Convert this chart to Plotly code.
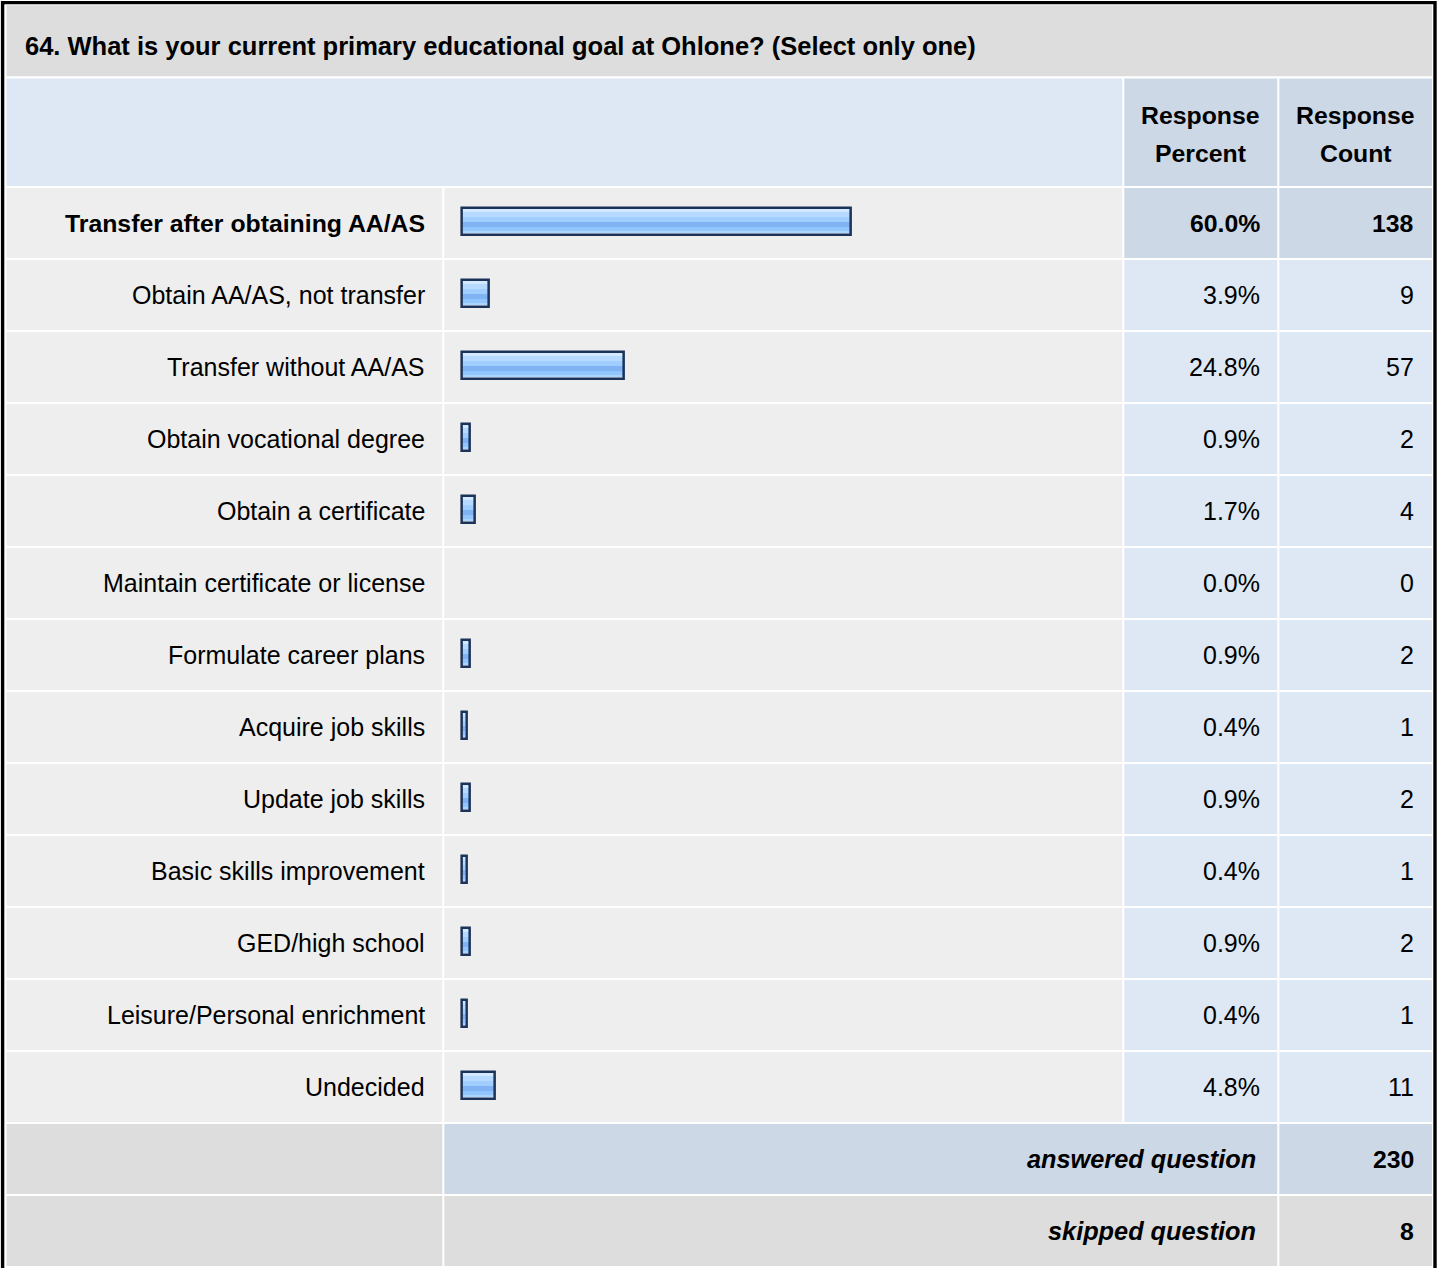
import plotly.graph_objects as go

# ---------------- data ----------------
title_text = "64. What is your current primary educational goal at Ohlone? (Select only one)"
categories = [
    "Transfer after obtaining AA/AS",
    "Obtain AA/AS, not transfer",
    "Transfer without AA/AS",
    "Obtain vocational degree",
    "Obtain a certificate",
    "Maintain certificate or license",
    "Formulate career plans",
    "Acquire job skills",
    "Update job skills",
    "Basic skills improvement",
    "GED/high school",
    "Leisure/Personal enrichment",
    "Undecided",
]
response_percent = [60.0, 3.9, 24.8, 0.9, 1.7, 0.0, 0.9, 0.4, 0.9, 0.4, 0.9, 0.4, 4.8]
response_count = [138, 9, 57, 2, 4, 0, 2, 1, 2, 1, 2, 1, 11]
header_labels = [["Response", "Percent"], ["Response", "Count"]]
summary_labels = ["answered question", "skipped question"]
summary_values = [230, 8]
highlight_index = 0

# ---------------- geometry helpers ----------------
W, H = 1437, 1268
FONT = "Liberation Sans, Arial, sans-serif"
FS = 25
FS_BOLD = 24.8
FS_TITLE = 25.5
FS_ITAL = 25.3


def px(x):
    return x / W


def py(y):
    return 1 - y / H


TITLE_BG = "#DDDDDD"
HEAD_BG = "#DEE8F5"
HEAD_DARK = "#CCD8E6"
ROW_BG = "#EEEEEE"
BORDER = "#1B3359"

shapes = []


def rect(x0, y0, x1, y1, color):
    shapes.append(dict(type="rect", xref="paper", yref="paper",
                       x0=px(x0), x1=px(x1), y0=py(y1), y1=py(y0),
                       fillcolor=color, line=dict(width=0), layer="below"))


# columns
C1 = (6.5, 442.3)
C2 = (444.3, 1122.3)
C3 = (1124.3, 1277.3)
C4 = (1279.3, 1432)

# title row
rect(6.5, 5.3, 1432, 76.3, TITLE_BG)
# header row
rect(C1[0], 78.5, C2[1], 186, HEAD_BG)
rect(C3[0], 78.5, C3[1], 186, HEAD_DARK)
rect(C4[0], 78.5, C4[1], 186, HEAD_DARK)

ROW0 = 188
STEP = 72
for i in range(len(categories)):
    y0 = ROW0 + STEP * i
    y1 = y0 + 70
    rect(C1[0], y0, C1[1], y1, ROW_BG)
    rect(C2[0], y0, C2[1], y1, ROW_BG)
    c = HEAD_DARK if i == highlight_index else HEAD_BG
    rect(C3[0], y0, C3[1], y1, c)
    rect(C4[0], y0, C4[1], y1, c)

SUM0 = ROW0 + STEP * len(categories)  # 1124
# answered
rect(C1[0], SUM0, C1[1], SUM0 + 70, TITLE_BG)
rect(C2[0], SUM0, C3[1], SUM0 + 70, HEAD_DARK)
rect(C4[0], SUM0, C4[1], SUM0 + 70, HEAD_DARK)
# skipped
rect(C1[0], SUM0 + 72, C1[1], SUM0 + 142, TITLE_BG)
rect(C2[0], SUM0 + 72, C3[1], SUM0 + 142, TITLE_BG)
rect(C4[0], SUM0 + 72, C4[1], SUM0 + 142, TITLE_BG)

# outer border
shapes.append(dict(type="rect", xref="paper", yref="paper",
                   x0=px(2.6), x1=px(1435), y0=py(1300), y1=py(2.6),
                   fillcolor="rgba(0,0,0,0)", line=dict(color="#000000", width=3.4),
                   layer="above"))

# ---------------- annotations ----------------
ann = []


def text(x, y, s, anchor="right", bold=False, italic=False, size=None):
    t = s
    if size is None:
        size = FS_BOLD if bold else FS
    if bold:
        t = "<b>" + t + "</b>"
    if italic:
        t = "<i>" + t + "</i>"
    ann.append(dict(x=px(x), y=py(y), xref="paper", yref="paper", text=t,
                    showarrow=False, xanchor=anchor, yanchor="middle",
                    font=dict(family=FONT, size=size, color="#000000")))


text(23, 45.5, title_text, anchor="left", bold=True, size=FS_TITLE)
text(1200.5, 116, header_labels[0][0], anchor="center", bold=True)
text(1200.5, 153, header_labels[0][1], anchor="center", bold=True)
text(1355.5, 116, header_labels[1][0], anchor="center", bold=True)
text(1355.5, 153, header_labels[1][1], anchor="center", bold=True)

for i, (lab, p, n) in enumerate(zip(categories, response_percent, response_count)):
    yc = ROW0 + STEP * i + 35
    b = i == highlight_index
    text(426.5, yc, lab, bold=b)
    text(1261.5, yc, f"{p:.1f}%", bold=b)
    text(1416, yc, f"{n}", bold=b)

for j, (lab, v) in enumerate(zip(summary_labels, summary_values)):
    yc = SUM0 + 72 * j + 35
    text(1257.5, yc, lab, bold=True, italic=True, size=FS_ITAL)
    text(1416, yc, f"{v}", bold=True)

# ---------------- bars ----------------
K = 6.45        # pixels per percent
LW = 2.5        # bar border width (px)
D = (LW / 2) / K  # half border, in percent units
X0 = 462.8      # pixel of 0 %
X1 = 1122.3
PAD = 2.0       # percent units of axis room left of 0 (so the border isn't clipped)
ROW_C0 = ROW0 + 35  # center of first row (pixel)

fig = go.Figure()

# gradient stripes (pixel rows, first-row coordinates)
stripes = [
    (209.2, 212.2, "#D2E9FF"),
    (212.2, 216.6, "#B6DAFF"),
    (216.6, 222.4, "#A1CEFF"),
    (222.4, 227.4, "#7FB3F3"),
    (227.4, 231.2, "#93C6FF"),
    (231.2, 233.4, "#ABD4FF"),
]
for (a, b, col) in stripes:
    fig.add_trace(go.Bar(
        x=response_percent, y=categories, orientation="h",
        width=(b - a) / STEP, offset=(a - ROW_C0) / STEP,
        marker=dict(color=col, line=dict(width=0)),
        hoverinfo="skip", showlegend=False))

# border drawn just outside the fill
border_len = [v + 2 * D if v > 0 else 0 for v in response_percent]
fig.add_trace(go.Bar(
    x=border_len, y=categories, orientation="h", base=-D,
    width=(234.65 - 207.95) / STEP, offset=(207.95 - ROW_C0) / STEP,
    marker=dict(color="rgba(0,0,0,0)",
                line=dict(color=BORDER, width=[LW if v > 0 else 0 for v in response_percent])),
    customdata=list(zip(response_percent, response_count)),
    hovertemplate="%{y}: %{customdata[0]:.1f}% (%{customdata[1]})<extra></extra>",
    showlegend=False))

n = len(categories)
fig.update_layout(
    width=W, height=H,
    margin=dict(l=0, r=0, t=0, b=0),
    paper_bgcolor="#FFFFFF",
    plot_bgcolor="rgba(0,0,0,0)",
    barmode="overlay",
    bargap=0,
    shapes=shapes,
    annotations=ann,
    xaxis=dict(domain=[px(X0 - PAD * K), px(X1)], range=[-PAD, (X1 - X0) / K],
               visible=False, fixedrange=True),
    yaxis=dict(domain=[py(ROW_C0 + STEP * (n - 1) + STEP / 2), py(ROW_C0 - STEP / 2)],
               type="category", categoryorder="array", categoryarray=categories,
               range=[n - 0.5, -0.5], visible=False, fixedrange=True),
    showlegend=False,
)

fig.write_html("out.html", config={"displayModeBar": False},
               post_script="document.body.style.margin='0';document.body.style.overflow='hidden';")
